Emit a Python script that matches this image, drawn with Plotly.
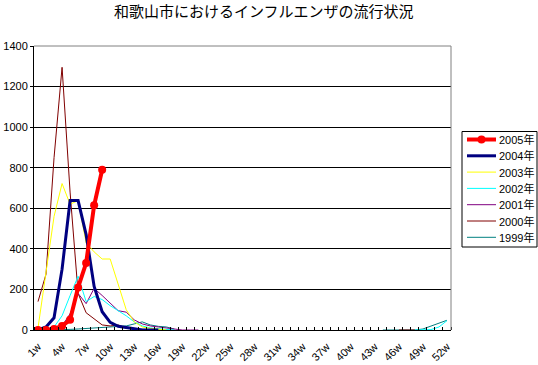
import plotly.graph_objects as go

weeks = list(range(1, 53))
week_labels = [f"{w}w" for w in weeks]
tick_weeks = weeks[::3]
tick_labels = [f"{w}w" for w in tick_weeks]

N = None
s2005 = [0, 0, 5, 20, 50, 210, 330, 615, 790] + [N] * 43
s2004 = [0, 15, 60, 300, 638, 638, 470, 215, 90, 38, 18, 12, 3, 0, 0, 0] + [N] * 36
s2003 = [10, 290, 560, 722, 620, 638, 430, 385, 350, 350, 230, 100, 40, 15, 8, 3, 0] + [N] * 35
s2002 = ([0, 0, 15, 70, 170, 265, 140, 165, 150, 120, 95, 70, 40, 20, 10, 5, 3, 0]
         + [N] * 29 + [0, 0, 2, 15, 46])
s2001 = [0, 0, 5, 20, 80, 180, 130, 205, 170, 130, 95, 88, 50, 30, 20, 15, 10, 5, 0, 0, 0] + [N] * 31
s2000 = ([140, 275, 850, 1295, 680, 180, 85, 55, 25, 20, 25, 10, 5, 3, 2, 0, 0, 0]
         + [N] * 27 + [0, 0, 0] + [N] * 4)
s1999 = ([0, 0, 0, 2, 3, 5, 8, 10, 12, 15, 18, 20, 30, 40, 25, 18, 15, 5]
         + [N] * 25 + [0, 0, 0, 0, 0, 5, 20, 35, 48])

series = [
    ("1999年", s1999, "#008080", 1, False),
    ("2000年", s2000, "#800000", 1, False),
    ("2001年", s2001, "#800080", 1, False),
    ("2002年", s2002, "#00FFFF", 1, False),
    ("2003年", s2003, "#FFFF00", 1, False),
    ("2004年", s2004, "#000080", 3, False),
    ("2005年", s2005, "#FF0000", 4, True),
]
TITLE = "和歌山市におけるインフルエンザの流行状況"

FONT = "Liberation Sans, Noto Sans CJK JP, sans-serif"
L, R, T, B = 34, 451, 46, 330
W, H = R - L, B - T


def px(x):
    return (x - L) / W


def py(y):
    return (B - y) / H


fig = go.Figure()
for name, vals, color, width, markers in series:
    fig.add_trace(go.Scatter(
        x=weeks, y=vals, name=name,
        mode="lines+markers" if markers else "lines",
        line=dict(color=color, width=width),
        marker=dict(size=8, color=color, symbol="circle") if markers else None,
        connectgaps=False, showlegend=False,
    ))

fig.update_layout(
    width=538, height=365,
    margin=dict(l=L, r=538 - R, t=T, b=365 - B, autoexpand=False),
    paper_bgcolor="white", plot_bgcolor="white",
    font=dict(family=FONT, size=11, color="black"),
    showlegend=False,
)
fig.add_annotation(text=TITLE, xref="paper", yref="paper", x=px(264), y=py(10.5),
                   xanchor="center", yanchor="middle", showarrow=False,
                   font=dict(family="Noto Sans CJK JP", size=15, color="black"))

fig.update_xaxes(
    range=[0.5, 52.5], tickmode="array", tickvals=tick_weeks, ticktext=tick_labels,
    tickangle=-45, ticks="", showgrid=False, zeroline=False, automargin=False,
    showline=True, linecolor="black", linewidth=1, ticklabelstandoff=5,
    tickfont=dict(family=FONT, size=11, color="black"),
    minor=dict(tickmode="array", tickvals=[w - 0.5 for w in weeks] + [52.5],
               ticks="inside", ticklen=3, tickcolor="black", showgrid=False),
)
fig.update_yaxes(
    range=[0, 1400], dtick=200, ticks="outside", ticklen=3, tickcolor="black",
    showgrid=True, gridcolor="black", gridwidth=1, zeroline=False, automargin=False,
    showline=True, linecolor="black", linewidth=1,
    tickfont=dict(family=FONT, size=11, color="black"),
)
fig.add_shape(type="line", xref="paper", yref="paper", x0=0, x1=1, y0=1, y1=1,
              line=dict(color="#808080", width=1), layer="above")
fig.add_shape(type="line", xref="paper", yref="paper", x0=1, x1=1, y0=0, y1=1,
              line=dict(color="#808080", width=1), layer="above")

# legend drawn by hand (Excel-style compact spacing)
fig.add_shape(type="rect", xref="paper", yref="paper",
              x0=px(462), x1=px(537), y0=py(131.5), y1=py(247),
              line=dict(color="black", width=1), fillcolor="white", layer="above")
for i, (name, vals, color, width, markers) in enumerate(reversed(series)):
    yy = 139.5 + i * 16.3
    fig.add_shape(type="line", xref="paper", yref="paper",
                  x0=px(467), x1=px(496), y0=py(yy), y1=py(yy),
                  line=dict(color=color, width=width), layer="above")
    if markers:
        fig.add_shape(type="circle", xref="paper", yref="paper",
                      x0=px(477.5), x1=px(485.5), y0=py(yy - 4), y1=py(yy + 4),
                      line=dict(color=color, width=0), fillcolor=color, layer="above")
    fig.add_annotation(text=name, xref="paper", yref="paper", x=px(497), y=py(yy),
                       xanchor="left", yanchor="middle", showarrow=False,
                       font=dict(family=FONT, size=11, color="black"))

fig.write_html("out.html")
